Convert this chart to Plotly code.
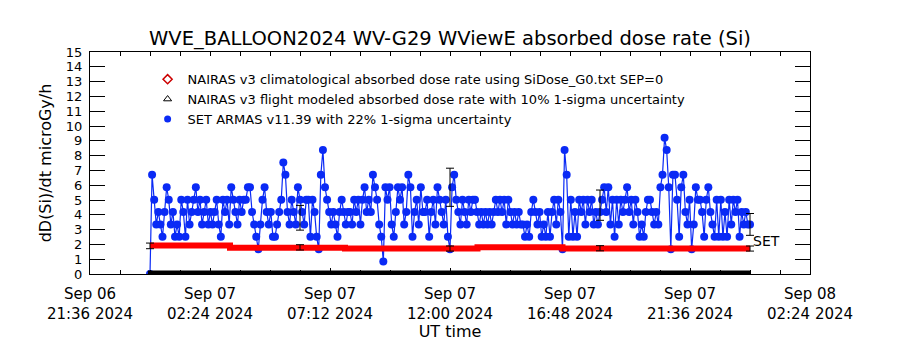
import pandas as pd
import plotly.graph_objects as go

# ---------------- data ----------------
SET_START = "2024-09-07 00:00"
# SET ARMAS v11.39 absorbed dose rate, 5-minute samples (microGy/h), one row per hour
set_armas_dose = [
    0.00, 6.70, 5.02, 3.35, 4.19, 3.35, 2.51, 4.19, 5.86, 5.02, 3.35, 4.19,
    2.51, 3.35, 2.51, 5.02, 4.19, 2.51, 5.02, 3.35, 4.19, 5.02, 5.86, 4.19,
    5.02, 3.35, 4.19, 5.02, 3.35, 4.19, 3.35, 4.19, 5.02, 3.35, 2.51, 5.02,
    4.19, 5.02, 3.35, 5.86, 5.02, 4.19, 3.35, 5.02, 4.19, 5.02, 5.02, 5.86,
    5.86, 4.19, 3.35, 2.51, 1.67, 3.35, 5.02, 5.86, 4.19, 3.35, 4.19, 2.51,
    2.51, 3.35, 4.19, 5.02, 7.53, 6.70, 4.19, 3.35, 5.02, 4.19, 3.35, 5.86,
    5.02, 4.19, 3.35, 5.02, 5.02, 2.51, 5.02, 4.19, 2.51, 1.67, 6.70, 8.37,
    5.86, 5.02, 4.19, 3.35, 4.19, 3.35, 2.51, 4.19, 5.02, 4.19, 3.35, 4.19,
    4.19, 3.35, 5.02, 4.19, 5.02, 3.35, 5.02, 5.86, 4.19, 5.02, 4.19, 6.70,
    5.86, 5.02, 3.35, 2.51, 0.84, 5.86, 5.02, 5.86, 3.35, 2.51, 4.19, 5.86,
    5.02, 5.86, 3.35, 4.19, 6.70, 5.86, 2.51, 4.19, 5.02, 3.35, 5.86, 4.19,
    4.19, 5.02, 2.51, 4.19, 5.02, 3.35, 5.86, 5.02, 4.19, 3.35, 5.02, 2.51,
    1.67, 5.86, 6.70, 5.02, 4.19, 3.35, 5.02, 4.19, 3.35, 5.02, 4.19, 5.02,
    5.02, 4.19, 3.35, 4.19, 3.35, 4.19, 3.35, 4.19, 3.35, 4.19, 5.02, 4.19,
    5.02, 4.19, 5.02, 3.35, 5.02, 4.19, 3.35, 4.19, 3.35, 4.19, 3.35, 3.35,
    2.51, 3.35, 2.51, 4.19, 5.02, 4.19, 3.35, 4.19, 2.51, 3.35, 2.51, 4.19,
    2.51, 4.19, 5.02, 3.35, 5.02, 4.19, 1.67, 8.37, 6.70, 2.51, 5.02, 2.51,
    4.19, 2.51, 5.02, 4.19, 5.02, 3.35, 5.02, 4.19, 5.02, 3.35, 4.19, 3.35,
    4.19, 5.02, 5.86, 4.19, 5.86, 3.35, 5.02, 2.51, 5.02, 3.35, 5.02, 4.19,
    5.02, 5.86, 4.19, 5.02, 3.35, 5.02, 4.19, 2.51, 3.35, 2.51, 4.19, 5.02,
    5.02, 4.19, 3.35, 4.19, 3.35, 5.86, 6.70, 9.21, 8.37, 5.86, 1.67, 6.70,
    6.70, 5.02, 2.51, 5.86, 6.70, 4.19, 3.35, 5.02, 1.67, 3.35, 5.86, 5.02,
    5.02, 4.19, 2.51, 5.02, 5.86, 4.19, 3.35, 2.51, 5.02, 2.51, 5.02, 2.51,
    4.19, 2.51, 5.02, 3.35, 5.02, 4.19, 5.02, 2.51, 4.19, 3.35, 4.19, 3.35,
    3.35,
]
set_times = pd.date_range(SET_START, periods=len(set_armas_dose), freq="5min")

# NAIRAS v3 climatological absorbed dose rate (step values)
nairas_clim_times = ["2024-09-07 00:00", "2024-09-07 03:12", "2024-09-07 07:48",
                     "2024-09-07 13:06", "2024-09-07 16:30", "2024-09-08 00:00"]
nairas_clim_dose = [1.92, 1.78, 1.72, 1.80, 1.72, 1.72]

# NAIRAS v3 flight modeled absorbed dose rate
nairas_flight_times = ["2024-09-06 23:55", "2024-09-08 00:02"]
nairas_flight_dose = [0.0, 0.0]

# uncertainty markers
nairas_err_times = ["2024-09-07 00:00", "2024-09-07 06:00", "2024-09-07 12:00",
                    "2024-09-07 18:00", "2024-09-08 00:00"]
nairas_err_dose = [1.90, 1.80, 1.72, 1.74, 1.72]
nairas_sigma_pct = 10

armas_err_times = ["2024-09-07 06:00", "2024-09-07 12:00", "2024-09-07 18:00", "2024-09-08 00:00"]
armas_err_dose = [3.80, 5.86, 4.65, 3.35]
armas_sigma_pct = 22

x_range = ["2024-09-06 21:36", "2024-09-08 02:24"]
x_tickvals = ["2024-09-06 21:36", "2024-09-07 02:24", "2024-09-07 07:12", "2024-09-07 12:00",
              "2024-09-07 16:48", "2024-09-07 21:36", "2024-09-08 02:24"]
x_ticktext = ["Sep 06<br>21:36 2024", "Sep 07<br>02:24 2024", "Sep 07<br>07:12 2024",
              "Sep 07<br>12:00 2024", "Sep 07<br>16:48 2024", "Sep 07<br>21:36 2024",
              "Sep 08<br>02:24 2024"]
y_tickvals = list(range(0, 16))

legend_labels = [
    "NAIRAS v3 climatological absorbed dose rate using SiDose_G0.txt SEP=0",
    "NAIRAS v3 flight modeled absorbed dose rate with 10% 1-sigma uncertainty",
    "SET ARMAS v11.39 with 22% 1-sigma uncertainty",
]

# ---------------- figure ----------------
FONT = "DejaVu Sans"
BLUE = "#0a2af5"
RED = "#ff0000"
MINOR_DTICK = 72 * 60 * 1000

fig = go.Figure()

fig.add_trace(go.Scatter(
    x=set_times, y=set_armas_dose, mode="lines+markers",
    line=dict(color=BLUE, width=1.2),
    marker=dict(color=BLUE, size=8, symbol="circle"),
    showlegend=False, hoverinfo="skip"))

fig.add_trace(go.Scatter(
    x=pd.to_datetime(nairas_clim_times), y=nairas_clim_dose, mode="lines",
    line=dict(color=RED, width=6, shape="hv"), showlegend=False))

fig.add_trace(go.Scatter(
    x=pd.to_datetime(nairas_flight_times), y=nairas_flight_dose, mode="lines",
    line=dict(color="black", width=7), showlegend=False))

fig.add_trace(go.Scatter(
    x=pd.to_datetime(nairas_err_times), y=nairas_err_dose, mode="markers",
    marker=dict(color="rgba(0,0,0,0)", size=2),
    error_y=dict(type="percent", value=nairas_sigma_pct, color="black", thickness=1, width=4),
    showlegend=False))

fig.add_trace(go.Scatter(
    x=pd.to_datetime(armas_err_times), y=armas_err_dose, mode="markers",
    marker=dict(color="rgba(0,0,0,0)", size=2),
    error_y=dict(type="percent", value=armas_sigma_pct, color="black", thickness=1, width=4),
    showlegend=False))

# invisible trace to carry the top tick axis
fig.add_trace(go.Scatter(x=pd.to_datetime(x_range), y=[None, None], xaxis="x2",
                         mode="markers", showlegend=False, hoverinfo="skip"))

# legend entries
legend_styles = [
    dict(symbol="diamond-open", color="#cc0000", size=7, line=dict(width=1.5)),
    dict(symbol="triangle-up-open", color="black", size=7, line=dict(width=1)),
    dict(symbol="circle", color=BLUE, size=7),
]
for lab, mk in zip(legend_labels, legend_styles):
    fig.add_trace(go.Scatter(x=[None], y=[None], mode="markers", marker=mk, name=lab))

fig.add_annotation(x=pd.Timestamp("2024-09-08 00:02"), y=2.2, text="SET", showarrow=False,
                   xanchor="left", yanchor="middle", font=dict(family=FONT, size=14, color="black"))

fig.update_layout(
    width=900, height=350,
    margin=dict(l=90, r=90, t=52, b=71),
    paper_bgcolor="white", plot_bgcolor="white",
    font=dict(family=FONT, color="black"),
    title=dict(text="WVE_BALLOON2024 WV-G29 WViewE absorbed dose rate (Si)",
               x=0.5, xanchor="center", y=1 - 38 / 350, yanchor="middle", yref="container",
               font=dict(family=FONT, size=19.5, color="black")),
    legend=dict(x=0.08, y=0.945, xanchor="left", yanchor="top", bgcolor="rgba(0,0,0,0)",
                font=dict(family=FONT, size=13, color="black"), itemwidth=30,
                tracegroupgap=0),
    showlegend=True,
    xaxis=dict(
        type="date", range=x_range,
        tickmode="array", tickvals=x_tickvals, ticktext=x_ticktext,
        ticks="inside", ticklen=6, tickcolor="black", tickwidth=1,
        minor=dict(dtick=MINOR_DTICK, tick0=x_range[0], ticks="inside", ticklen=4,
                   tickcolor="black", showgrid=False),
        showline=True, linecolor="black", linewidth=1, mirror=True,
        showgrid=False, zeroline=False,
        tickfont=dict(family=FONT, size=15, color="black"), ticklabelstandoff=6,
        title=dict(text="UT time", font=dict(family=FONT, size=16, color="black"), standoff=4),
    ),
    xaxis2=dict(type="date", overlaying="x", side="top", range=x_range,
                tick0=x_range[0], dtick=MINOR_DTICK, ticks="inside", ticklen=4,
                tickcolor="black", showticklabels=False, showgrid=False, zeroline=False,
                showline=False),
    yaxis=dict(
        range=[0, 15], tickmode="array", tickvals=y_tickvals,
        ticks="inside", ticklen=15, tickcolor="black", tickwidth=1,
        showline=True, linecolor="black", linewidth=1, mirror="ticks",
        showgrid=False, zeroline=False,
        tickfont=dict(family=FONT, size=13, color="black"), ticklabelstandoff=4,
        title=dict(text="dD(Si)/dt microGy/h", font=dict(family=FONT, size=16, color="black"),
                   standoff=10),
    ),
)

fig.write_html("out.html")
